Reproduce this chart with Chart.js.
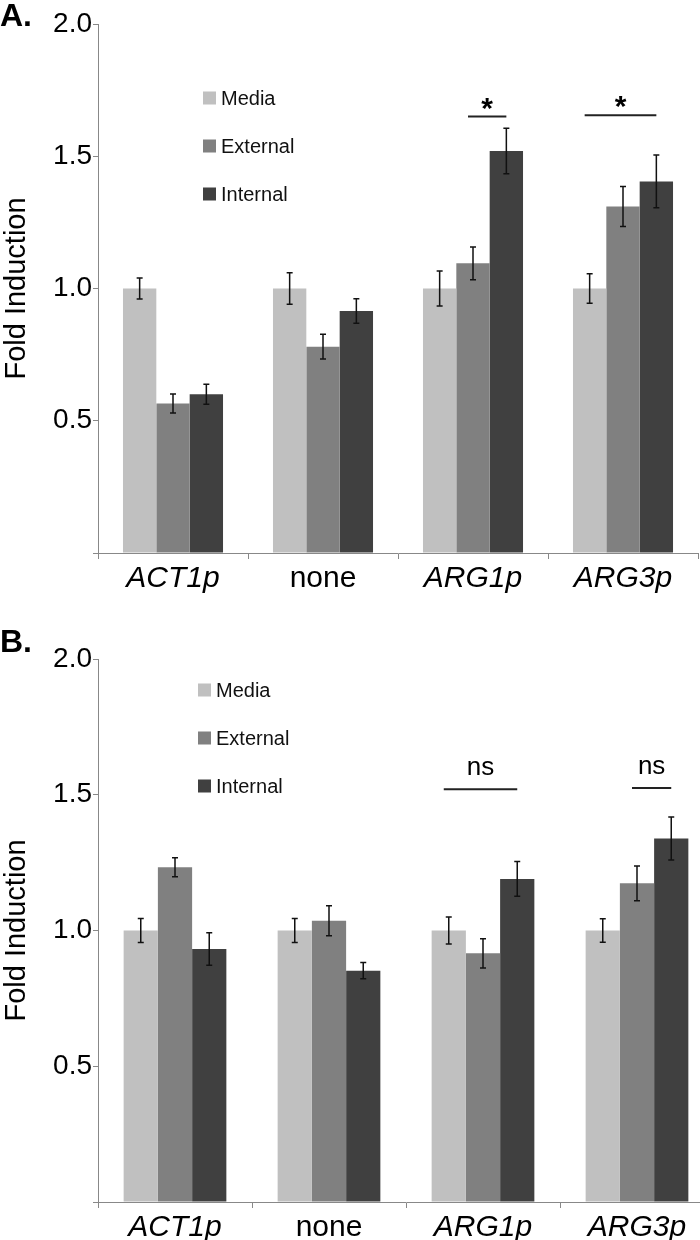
<!DOCTYPE html>
<html>
<head>
<meta charset="utf-8">
<script src="https://cdn.jsdelivr.net/npm/chart.js@4.4.0/dist/chart.umd.min.js"></script>
<style>
  body { margin: 0; background: #fff; width: 700px; height: 1240px; overflow: hidden; }
  .panel { position: relative; height: 620px; overflow: hidden; }
</style>
</head>
<body>
<div class="panel" style="width:700px"><canvas id="chartA"></canvas></div>
<div class="panel" style="width:714px"><canvas id="chartB"></canvas></div>
<script>
// categories and series
const categories = ['ACT1p', 'none', 'ARG1p', 'ARG3p'];
const seriesNames = ['Media', 'External', 'Internal'];
const seriesColors = ['#c0c0c0', '#808080', '#404040'];
const yTicks = [0.5, 1.0, 1.5, 2.0];

// panel A values (fold induction) and error bars
const mediaA = [1.0, 1.0, 1.0, 1.0];
const externalA = [0.565, 0.78, 1.095, 1.31];
const internalA = [0.60, 0.915, 1.52, 1.405];
const mediaErrA = [0.04, 0.06, 0.066, 0.056];
const externalErrA = [0.036, 0.047, 0.062, 0.076];
const internalErrA = [0.038, 0.046, 0.086, 0.10];

// panel B values
const mediaB = [1.0, 1.0, 1.0, 1.0];
const externalB = [1.233, 1.036, 0.916, 1.174];
const internalB = [0.932, 0.852, 1.19, 1.339];
const mediaErrB = [0.044, 0.044, 0.05, 0.043];
const externalErrB = [0.035, 0.055, 0.054, 0.064];
const internalErrB = [0.06, 0.03, 0.064, 0.079];

// significance brackets: category, first series, last series, level, text
const sigCatA = [2, 3];
const sigFromA = [1, 0];
const sigToA = [2, 2];
const sigLevelA = [1.65, 1.655];
const sigTextA = ['*', '*'];

const sigCatB = [2, 3];
const sigFromB = [0, 1];
const sigToB = [2, 2];
const sigLevelB = [1.52, 1.525];
const sigTextB = ['ns', 'ns'];

Chart.defaults.font.family = 'Arial, "Liberation Sans", sans-serif';
Chart.defaults.color = '#000';

const errorBars = {
    id: 'errorBars',
    afterDatasetsDraw(chart) {
        const ctx = chart.ctx;
        const y = chart.scales.y;
        ctx.save();
        ctx.strokeStyle = '#111';
        ctx.lineWidth = 1.5;
        chart.data.datasets.forEach((ds, i) => {
            chart.getDatasetMeta(i).data.forEach((bar, j) => {
                const top = y.getPixelForValue(ds.data[j] + ds.errors[j]);
                const bot = y.getPixelForValue(ds.data[j] - ds.errors[j]);
                ctx.beginPath();
                ctx.moveTo(bar.x, top); ctx.lineTo(bar.x, bot);
                ctx.moveTo(bar.x - 3, top); ctx.lineTo(bar.x + 3, top);
                ctx.moveTo(bar.x - 3, bot); ctx.lineTo(bar.x + 3, bot);
                ctx.stroke();
            });
        });
        ctx.restore();
    }
};

const sigMarks = {
    id: 'sigMarks',
    afterDatasetsDraw(chart, args, opts) {
        const ctx = chart.ctx;
        const y = chart.scales.y;
        ctx.save();
        opts.cats.forEach((c, k) => {
            const x1 = chart.getDatasetMeta(opts.from[k]).data[c].x - 5;
            const x2 = chart.getDatasetMeta(opts.to[k]).data[c].x;
            const py = y.getPixelForValue(opts.level[k]);
            ctx.strokeStyle = '#222';
            ctx.lineWidth = 2;
            ctx.beginPath();
            ctx.moveTo(x1, py); ctx.lineTo(x2, py);
            ctx.stroke();
            ctx.fillStyle = '#000';
            ctx.textAlign = 'center';
            ctx.textBaseline = 'alphabetic';
            if (opts.text[k] === '*') {
                ctx.font = 'bold 30px Arial, "Liberation Sans", sans-serif';
                ctx.fillText('*', (x1 + x2) / 2, py + 1);
            } else {
                ctx.font = '26px Arial, "Liberation Sans", sans-serif';
                ctx.fillText(opts.text[k], (x1 + x2) / 2, py - 14);
            }
        });
        ctx.restore();
    }
};

const boxLegend = {
    id: 'boxLegend',
    afterDraw(chart, args, opts) {
        const ctx = chart.ctx;
        ctx.save();
        ctx.font = '20px Arial, "Liberation Sans", sans-serif';
        ctx.textBaseline = 'middle';
        ctx.textAlign = 'left';
        chart.data.datasets.forEach((ds, i) => {
            const cy = opts.y + i * opts.gap;
            ctx.fillStyle = ds.backgroundColor;
            ctx.fillRect(opts.x, cy - 6.5, 13, 13);
            ctx.fillStyle = '#111';
            ctx.fillText(ds.label, opts.x + 18, cy + 1);
        });
        // panel letter
        ctx.font = 'bold 32px Arial, "Liberation Sans", sans-serif';
        ctx.textBaseline = 'alphabetic';
        ctx.fillStyle = '#000';
        ctx.fillText(opts.panel, 0, opts.panelY);
        ctx.restore();
    }
};

function makeChart(id, values, errors, sig, legendPos, pad, xHeight) {
    return new Chart(document.getElementById(id), {
        type: 'bar',
        data: {
            labels: categories,
            datasets: seriesNames.map((name, i) => ({
                label: name,
                data: values[i],
                errors: errors[i],
                backgroundColor: seriesColors[i],
                borderColor: seriesColors[i],
                borderWidth: 0,
                barPercentage: 1.0,
                categoryPercentage: 0.667
            }))
        },
        options: {
            responsive: true,
            maintainAspectRatio: false,
            animation: false,
            layout: { padding: pad },
            plugins: {
                legend: { display: false },
                tooltip: { enabled: false },
                errorBars: {},
                sigMarks: sig,
                boxLegend: legendPos
            },
            scales: {
                x: {
                    border: { color: '#888', width: 1 },
                    grid: { drawOnChartArea: false, tickLength: 6, color: '#888', offset: true },
                    ticks: {
                        padding: 2,
                        color: '#000',
                        font: c => ({ size: 30, style: categories[c.index] === 'none' ? 'normal' : 'italic' })
                    },
                    afterFit: axis => { axis.height = xHeight; }
                },
                y: {
                    min: 0,
                    max: 2,
                    afterBuildTicks: axis => { axis.ticks = [0, ...yTicks].map(v => ({ value: v })); },
                    afterFit: axis => { axis.width = 98; },
                    border: { color: '#888', width: 1 },
                    grid: { drawOnChartArea: false, tickLength: 5, color: '#888' },
                    ticks: {
                        padding: 1,
                        color: '#000',
                        font: { size: 28 },
                        callback: v => v === 0 ? '' : v.toFixed(1)
                    },
                    title: {
                        display: true,
                        text: 'Fold Induction',
                        color: '#000',
                        font: { size: 29 },
                        padding: 0
                    }
                }
            }
        },
        plugins: [errorBars, sigMarks, boxLegend]
    });
}

makeChart('chartA',
    [mediaA, externalA, internalA],
    [mediaErrA, externalErrA, internalErrA],
    { cats: sigCatA, from: sigFromA, to: sigToA, level: sigLevelA, text: sigTextA },
    { x: 203, y: 98, gap: 48, panel: 'A.', panelY: 26 },
    { top: 24, right: 2, left: 0, bottom: 0 }, 67);

makeChart('chartB',
    [mediaB, externalB, internalB],
    [mediaErrB, externalErrB, internalErrB],
    { cats: sigCatB, from: sigFromB, to: sigToB, level: sigLevelB, text: sigTextB },
    { x: 198, y: 70, gap: 48, panel: 'B.', panelY: 32 },
    { top: 39, right: 0, left: 0, bottom: 0 }, 38);
</script>
</body>
</html>
